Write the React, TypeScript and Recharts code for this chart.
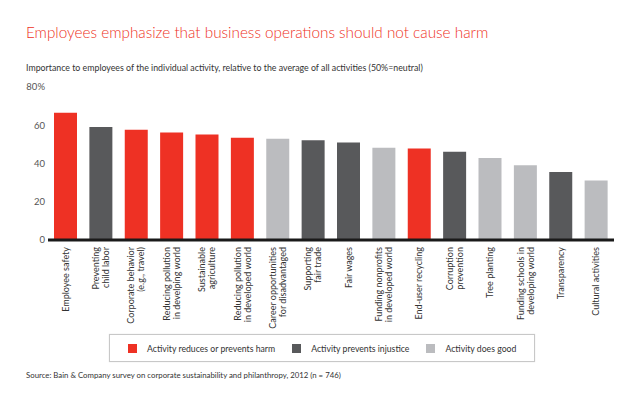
import { BarChart, Bar, XAxis, YAxis, Cell } from 'recharts';

const categories = [
  'Employee safety',
  'Preventing\nchild labor',
  'Corporate behavior\n(e.g., travel)',
  'Reducing pollution\nin develping world',
  'Sustainable\nagriculture',
  'Reducing pollution\nin developed world',
  'Career opportunities\nfor disadvantaged',
  'Supporting\nfair trade',
  'Fair wages',
  'Funding nonprofits\nin developed world',
  'End-user recycling',
  'Corruption\nprevention',
  'Tree planting',
  'Funding schools in\ndeveloping world',
  'Transparency',
  'Cultural activities',
];

const values = [66.6, 59.1, 57.7, 56.2, 55.1, 53.4, 52.9, 52.2, 51.0, 48.2, 47.8, 46.1, 42.9, 39.1, 35.6, 31.1];

// harm = reduces or prevents harm, injustice = prevents injustice, good = does good
const groups = ['harm', 'injustice', 'harm', 'harm', 'harm', 'harm', 'good', 'injustice', 'injustice', 'good', 'harm', 'injustice', 'good', 'good', 'injustice', 'good'];

const yTicks = [0, 20, 40, 60, 80];

const legendItems = [
  { key: 'harm', label: 'Activity reduces or prevents harm' },
  { key: 'injustice', label: 'Activity prevents injustice' },
  { key: 'good', label: 'Activity does good' },
];

const colors: Record<string, string> = {
  harm: '#ee3124',
  injustice: '#58595b',
  good: '#bbbcbf',
};

const FONT = 'Lato, "Liberation Sans", sans-serif';

const chartData = categories.map((name, i) => ({ name, value: values[i], group: groups[i] }));

const CategoryTick = (props: any) => {
  const { x, y, payload } = props;
  const lines = String(payload.value).split('\n');
  const offsets = lines.length === 1 ? [3] : [-2, 8];
  return (
    <g transform={`translate(${x},${y})`}>
      <text transform="rotate(-90)" textAnchor="end" fontSize={9} fill="#333" fontFamily={FONT}>
        {lines.map((line, i) => (
          <tspan key={i} x={0} y={offsets[i]}>
            {line}
          </tspan>
        ))}
      </text>
    </g>
  );
};

const App = () => {
  return (
    <div style={{ position: 'absolute', left: 0, top: 0, width: 640, height: 404, background: '#fff', fontFamily: FONT }}>
      <div style={{ position: 'absolute', left: 26, top: 23, fontSize: 15.3, fontWeight: 300, color: '#ee3124', whiteSpace: 'nowrap' }}>
        Employees emphasize that business operations should not cause harm
      </div>
      <div style={{ position: 'absolute', left: 26, top: 62, fontSize: 8.8, color: '#333', whiteSpace: 'nowrap' }}>
        Importance to employees of the individual activity, relative to the average of all activities (50%=neutral)
      </div>

      <div style={{ position: 'absolute', left: 0, top: 0 }}>
        <BarChart width={640} height={404} data={chartData} margin={{ top: 87, right: 26, bottom: 0, left: 0 }} barCategoryGap={12}>
          <XAxis
            dataKey="name"
            interval={0}
            tickLine={false}
            tickSize={0}
            tickMargin={7}
            height={164}
            axisLine={{ stroke: '#1a1a1a', strokeWidth: 3 }}
            tick={<CategoryTick />}
          />
          <YAxis
            type="number"
            domain={[0, 80]}
            ticks={yTicks}
            width={48}
            axisLine={false}
            tickLine={false}
            tickSize={0}
            tickMargin={3}
            tick={{ fontSize: 9.5, fill: '#555', fontFamily: FONT }}
            tickFormatter={(v) => (v === 80 ? '80%' : `${v}`)}
          />
          <Bar dataKey="value" barSize={23} isAnimationActive={false}>
            {chartData.map((entry, index) => (
              <Cell key={`cell-${index}`} fill={colors[entry.group]} />
            ))}
          </Bar>
        </BarChart>
      </div>

      <div
        style={{
          position: 'absolute',
          left: 109,
          top: 334,
          width: 424,
          height: 26,
          border: '1px solid #c8c8c8',
          boxShadow: '0 0 1px #ddd',
          display: 'flex',
          alignItems: 'center',
          fontSize: 8.7,
          color: '#333',
        }}
      >
        {legendItems.map((item, i) => (
          <div key={item.key} style={{ display: 'flex', alignItems: 'center', marginLeft: i === 0 ? 18 : 17 }}>
            <span style={{ display: 'inline-block', width: 9, height: 9, background: colors[item.key], marginRight: 10 }} />
            <span>{item.label}</span>
          </div>
        ))}
      </div>

      <div style={{ position: 'absolute', left: 26, top: 370, fontSize: 7.8, color: '#333', whiteSpace: 'nowrap' }}>
        Source: Bain &amp; Company survey on corporate sustainability and philanthropy, 2012 (n = 746)
      </div>
    </div>
  );
};

export default App;
